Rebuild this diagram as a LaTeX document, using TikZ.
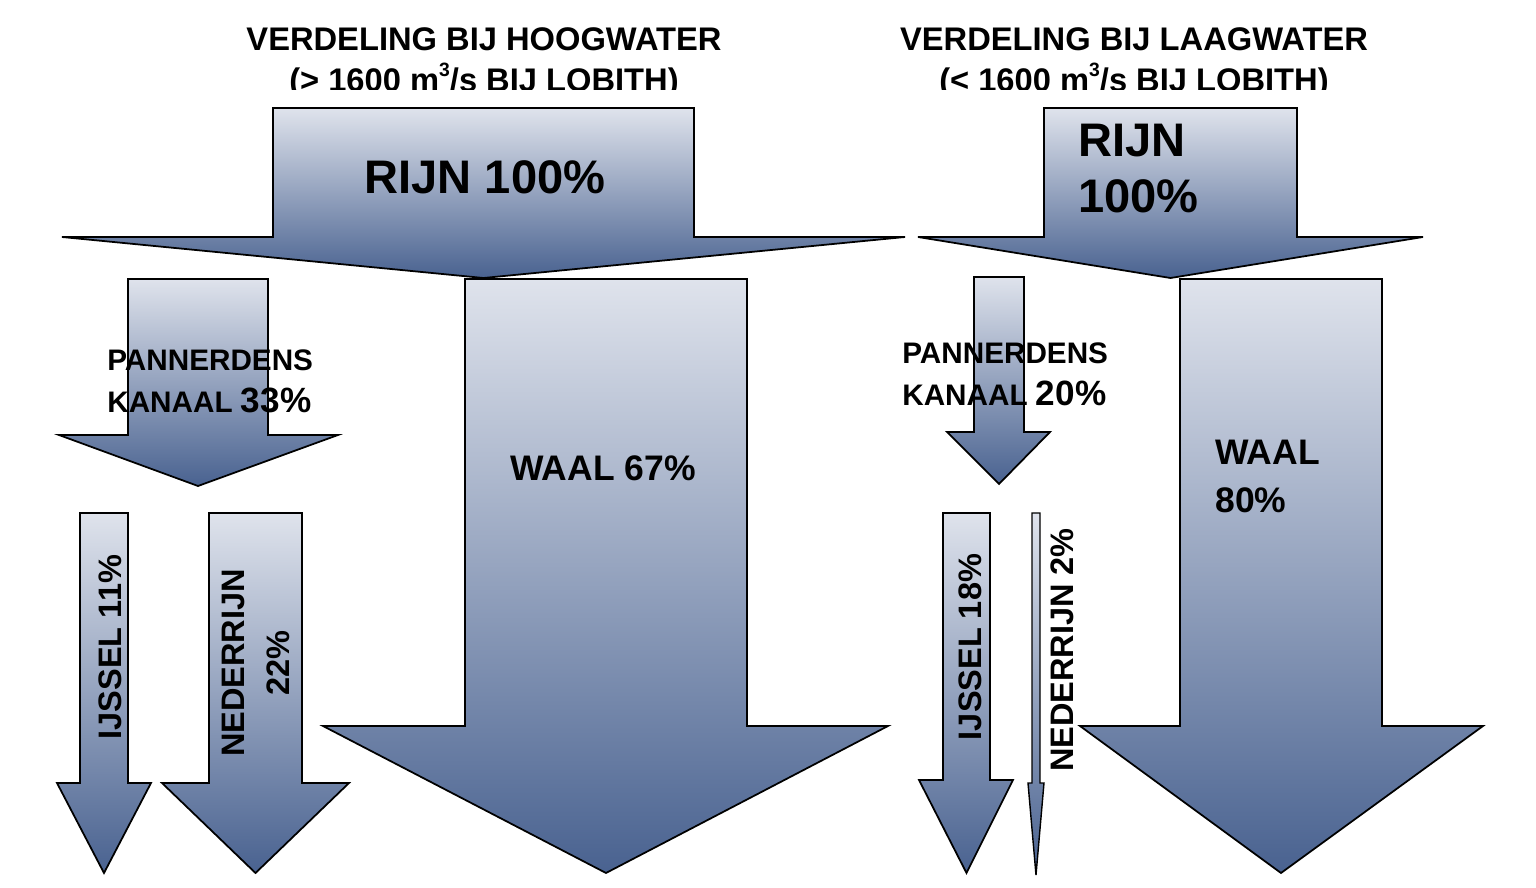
\documentclass[tikz,border=0pt]{standalone}
\usepackage{fontspec}
\setmainfont{Liberation Sans}
\definecolor{flowtop}{HTML}{DFE3EC}
\definecolor{flowbot}{HTML}{496290}

\begin{document}
\begin{tikzpicture}[x=0.02cm, y=0.02cm]

\tikzset{flow/.style = {draw=black, line width=1pt, line join=miter, top color=flowtop, bottom color=flowbot}}
\tikzset{label/.style = {inner sep=0pt, font=\bfseries}}
\newcommand{\cubic}{\raisebox{0.48em}{\fontsize{11}{11}\selectfont 3}}

\useasboundingbox (0,0) rectangle (1536,887);

%hoogwater
\draw[flow] (273,779) -- (694,779) -- (694,650) -- (905,650) -- (483.5,609) -- (62,650) -- (273,650) -- cycle;
\draw[flow] (128,608) -- (268,608) -- (268,452) -- (338,452) -- (198,401) -- (59,452) -- (128,452) -- cycle;
\draw[flow] (465,608) -- (747,608) -- (747,161) -- (888,161) -- (606,14) -- (323,161) -- (465,161) -- cycle;
\draw[flow] (80,374) -- (128,374) -- (128,104) -- (151,104) -- (104,14) -- (57,104) -- (80,104) -- cycle;
\draw[flow] (209,374) -- (302,374) -- (302,104) -- (349,104) -- (255.5,14) -- (162,104) -- (209,104) -- cycle;

%laagwater
\draw[flow] (1044,779) -- (1297,779) -- (1297,650) -- (1423,650) -- (1170.5,609) -- (918,650) -- (1044,650) -- cycle;
\draw[flow] (974,610) -- (1024,610) -- (1024,455) -- (1050,455) -- (999,403) -- (947,455) -- (974,455) -- cycle;
\draw[flow] (1180,608) -- (1382,608) -- (1382,161) -- (1483,161) -- (1281,14) -- (1080,161) -- (1180,161) -- cycle;
\draw[flow] (943,374) -- (990,374) -- (990,107) -- (1013,107) -- (966.5,14) -- (919,107) -- (943,107) -- cycle;
\draw[flow, line width=0.8pt] (1032,374) -- (1040,374) -- (1040,104) -- (1044,104) -- (1036,12) -- (1028,104) -- (1032,104) -- cycle;

%titles
\begin{scope}
\clip (0,797) rectangle (1536,887);
\node[label, anchor=base, font=\bfseries\fontsize{18.6}{22}\selectfont] (titleHoog) at (484,836) {VERDELING BIJ HOOGWATER};
\node[label, anchor=base, font=\bfseries\fontsize{18.6}{22}\selectfont] (subHoog) at (484,795) {(> 1600 m\cubic/s BIJ LOBITH)};
\node[label, anchor=base, font=\bfseries\fontsize{18.6}{22}\selectfont] (titleLaag) at (1134,836) {VERDELING BIJ LAAGWATER};
\node[label, anchor=base, font=\bfseries\fontsize{18.6}{22}\selectfont] (subLaag) at (1134,795) {(< 1600 m\cubic/s BIJ LOBITH)};
\end{scope}

%labels hoogwater
\node[label, anchor=base, font=\bfseries\fontsize{26.8}{32}\selectfont] (rijnHoog) at (485,693) {RIJN 100\%};
\node[label, anchor=north west, align=left, font=\bfseries\fontsize{16.9}{24.4}\selectfont] (pannHoog) at (107,538) {PANNERDENS\\KANAAL {\fontsize{20}{24.4}\selectfont 33\%}};
\node[label, anchor=base, font=\bfseries\fontsize{20.2}{24}\selectfont] (waalHoog) at (603,406) {WAAL 67\%};
\node[label, rotate=90, font=\bfseries\fontsize{18.5}{22}\selectfont] (ijsselHoog) at (110,240) {IJSSEL 11\%};
\node[label, rotate=90, align=center, font=\bfseries\fontsize{18.5}{25.5}\selectfont] (nederHoog) at (256,224) {NEDERRIJN\\22\%};

%labels laagwater
\node[label, anchor=north west, align=left, font=\bfseries\fontsize{26.8}{31.75}\selectfont] (rijnLaag) at (1078,763) {RIJN\\100\%};
\node[label, anchor=north west, align=left, font=\bfseries\fontsize{16.9}{24.4}\selectfont] (pannLaag) at (902,545) {PANNERDENS\\KANAAL {\fontsize{20}{24.4}\selectfont 20\%}};
\node[label, anchor=north west, align=left, font=\bfseries\fontsize{20.2}{27.2}\selectfont] (waalLaag) at (1215,447) {WAAL\\80\%};
\node[label, rotate=90, font=\bfseries\fontsize{18.5}{22}\selectfont] (ijsselLaag) at (970,240) {IJSSEL 18\%};
\node[label, rotate=90, font=\bfseries\fontsize{18.5}{22}\selectfont] (nederLaag) at (1062,237) {NEDERRIJN 2\%};

\end{tikzpicture}
\end{document}
